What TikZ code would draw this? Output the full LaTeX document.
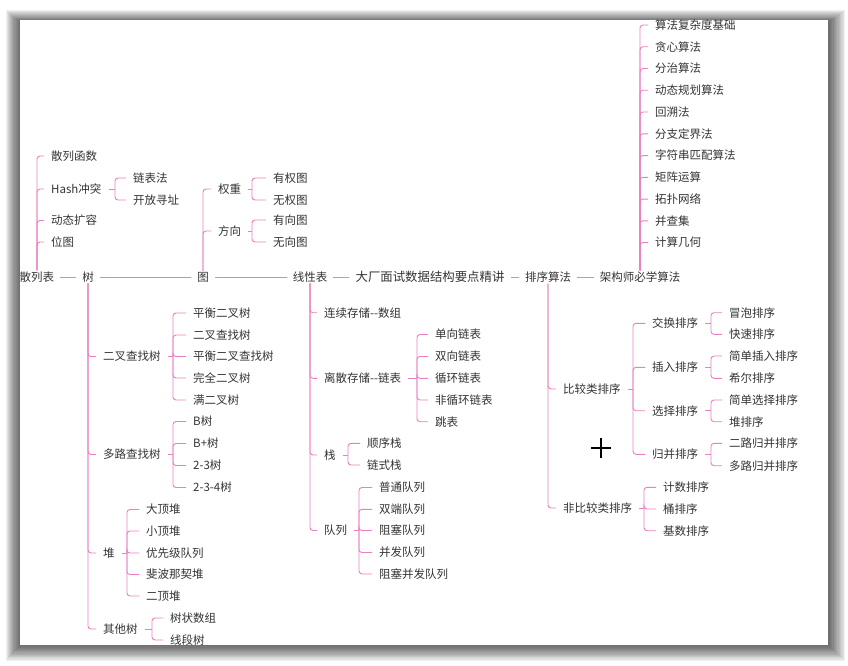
\documentclass[tikz,border=0pt]{standalone}
\usepackage{fontspec}
\setmainfont{Noto Sans CJK SC}
\usetikzlibrary{calc}

\definecolor{linkpink}{RGB}{234,128,192}
\definecolor{txtgray}{RGB}{52,52,52}

\tikzset{
  topic/.style={anchor=west, inner xsep=7pt, inner ysep=1pt, text=txtgray,
    font=\fontsize{11.5}{13}\selectfont},
  maintopic/.style={inner xsep=6pt, inner ysep=1pt, text=txtgray,
    font=\fontsize{11.5}{13}\selectfont},
  link/.style={draw=linkpink, line width=0.9pt, rounded corners=3pt},
}

% 父节点 -> 括号 -> 子节点
\newcommand{\subbranch}[3]{%
  \coordinate (#1-b) at (#2,0 |- #1.east);
  \draw[link] (#1.east) -- (#1-b);
  \foreach \c in {#3} \draw[link] (#1-b) |- (\c.west);
}

\begin{document}
\begin{tikzpicture}[x=1pt, y=-1pt]

    \useasboundingbox (0,0) rectangle (848,666);

    % 截图边框和阴影
    \fill[white] (0,0) rectangle (848,666);
    \foreach \i in {1,...,14}
      \fill[black, opacity=0.06] (21-1.1*\i,23-0.9*\i) rectangle (827+1.3*\i,644+1.2*\i);
    \fill[white] (20,20) rectangle (828,645);

    \begin{scope}
    \clip (20,20) rectangle (828,645);

    % 主干
    \node[maintopic] (sl) at (37,277) {散列表};
    \node[maintopic] (tree) at (88,277) {树};
    \node[maintopic] (graph) at (203,277) {图};
    \node[maintopic] (linear) at (310,277) {线性表};
    \node[maintopic, font=\fontsize{12.4}{14}\selectfont] (root) at (430,277) {大厂面试数据结构要点精讲};
    \node[maintopic] (sort) at (548,277) {排序算法};
    \node[maintopic] (algo) at (640,277) {架构师必学算法};

    \draw[link] (sl) -- (tree);
    \draw[link] (tree) -- (graph);
    \draw[link] (graph) -- (linear);
    \draw[link] (linear) -- (root);
    \draw[link] (root) -- (sort);
    \draw[link] (sort) -- (algo);

    % 散列表
    \node[topic] (hf) at (44,156) {散列函数};
    \node[topic] (hc) at (44,189) {Hash冲突};
    \node[topic] (dr) at (44,220.5) {动态扩容};
    \node[topic] (bm) at (44,242) {位图};
    \foreach \c in {hf,hc,dr,bm} \draw[link] (sl.north) |- (\c.west);

    \node[topic] (lbf) at (126,178) {链表法};
    \node[topic] (kfxz) at (126,200) {开放寻址};
    \subbranch{hc}{115}{lbf,kfxz}

    % 图
    \node[topic] (qz) at (211,189) {权重};
    \node[topic] (fx) at (211,231) {方向};
    \foreach \c in {qz,fx} \draw[link] (graph.north) |- (\c.west);

    \node[topic] (yqt) at (266,178) {有权图};
    \node[topic] (wqt) at (266,200) {无权图};
    \node[topic] (yxt) at (266,220) {有向图};
    \node[topic] (wxt) at (266,242) {无向图};
    \subbranch{qz}{252}{yqt,wqt}
    \subbranch{fx}{252}{yxt,wxt}

    % 树
    \node[topic] (bst) at (96,356.5) {二叉查找树};
    \node[topic] (mst) at (96,454.5) {多路查找树};
    \node[topic] (heap) at (96,553) {堆};
    \node[topic] (other) at (96,629) {其他树};
    \foreach \c in {bst,mst,heap,other} \draw[link] (tree.south) |- (\c.west);

    \node[topic] (bst1) at (186,313) {平衡二叉树};
    \node[topic] (bst2) at (186,335) {二叉查找树};
    \node[topic] (bst3) at (186,356.5) {平衡二叉查找树};
    \node[topic] (bst4) at (186,378) {完全二叉树};
    \node[topic] (bst5) at (186,400) {满二叉树};
    \subbranch{bst}{173}{bst1,bst2,bst3,bst4,bst5}

    \node[topic] (mst1) at (186,421.5) {B树};
    \node[topic] (mst2) at (186,443.5) {B+树};
    \node[topic] (mst3) at (186,465.5) {2-3树};
    \node[topic] (mst4) at (186,487.5) {2-3-4树};
    \subbranch{mst}{173}{mst1,mst2,mst3,mst4}

    \node[topic] (heap1) at (139,509.5) {大顶堆};
    \node[topic] (heap2) at (139,531) {小顶堆};
    \node[topic] (heap3) at (139,553) {优先级队列};
    \node[topic] (heap4) at (139,574.5) {斐波那契堆};
    \node[topic] (heap5) at (139,596) {二顶堆};
    \subbranch{heap}{127}{heap1,heap2,heap3,heap4,heap5}

    \node[topic] (other1) at (163,618) {树状数组};
    \node[topic] (other2) at (163,640) {线段树};
    \subbranch{other}{152}{other1,other2}

    % 线性表
    \node[topic] (arr) at (317,312.7) {连续存储-{}-数组};
    \node[topic] (list) at (317,378.3) {离散存储-{}-链表};
    \node[topic] (stack) at (317,455) {栈};
    \node[topic] (queue) at (317,530.5) {队列};
    \foreach \c in {arr,list,stack,queue} \draw[link] (linear.south) |- (\c.west);

    \node[topic] (list1) at (428,334.5) {单向链表};
    \node[topic] (list2) at (428,356.5) {双向链表};
    \node[topic] (list3) at (428,378.3) {循环链表};
    \node[topic] (list4) at (428,400) {非循环链表};
    \node[topic] (list5) at (428,421.7) {跳表};
    \subbranch{list}{417}{list1,list2,list3,list4,list5}

    \node[topic] (stack1) at (360,443.3) {顺序栈};
    \node[topic] (stack2) at (360,465) {链式栈};
    \subbranch{stack}{348}{stack1,stack2}

    \node[topic] (queue1) at (372,487.5) {普通队列};
    \node[topic] (queue2) at (372,509.3) {双端队列};
    \node[topic] (queue3) at (372,530.5) {阻塞队列};
    \node[topic] (queue4) at (372,552.5) {并发队列};
    \node[topic] (queue5) at (372,574) {阻塞并发队列};
    \subbranch{queue}{359}{queue1,queue2,queue3,queue4,queue5}

    % 排序算法
    \node[topic] (cmp) at (556,389) {比较类排序};
    \node[topic] (ncmp) at (556,508) {非比较类排序};
    \foreach \c in {cmp,ncmp} \draw[link] (sort.south) |- (\c.west);

    \node[topic] (exch) at (645,323.3) {交换排序};
    \node[topic] (ins) at (645,367.3) {插入排序};
    \node[topic] (sel) at (645,410.7) {选择排序};
    \node[topic] (mrg) at (645,454.3) {归并排序};
    \subbranch{cmp}{633}{exch,ins,sel,mrg}

    \node[topic] (exch1) at (722,312.7) {冒泡排序};
    \node[topic] (exch2) at (722,334.3) {快速排序};
    \node[topic] (ins1) at (722,356) {简单插入排序};
    \node[topic] (ins2) at (722,378.3) {希尔排序};
    \node[topic] (sel1) at (722,400) {简单选择排序};
    \node[topic] (sel2) at (722,421.7) {堆排序};
    \node[topic] (mrg1) at (722,443.3) {二路归并排序};
    \node[topic] (mrg2) at (722,465.7) {多路归并排序};
    \subbranch{exch}{711}{exch1,exch2}
    \subbranch{ins}{711}{ins1,ins2}
    \subbranch{sel}{711}{sel1,sel2}
    \subbranch{mrg}{711}{mrg1,mrg2}

    \node[topic] (ncmp1) at (656,487.3) {计数排序};
    \node[topic] (ncmp2) at (656,509) {桶排序};
    \node[topic] (ncmp3) at (656,530.7) {基数排序};
    \subbranch{ncmp}{644}{ncmp1,ncmp2,ncmp3}

    % 架构师必学算法
    \foreach \lbl [count=\i] in {算法复杂度基础,贪心算法,分治算法,动态规划算法,回溯法,
        分支定界法,字符串匹配算法,矩阵运算,拓扑网络,并查集,计算几何} {
      \node[topic] (al\i) at (648,3.3+21.75*\i) {\lbl};
      \draw[link] (algo.north) |- (al\i.west);
    }

    % 鼠标光标
    \draw[black, line width=1.1pt] (591,448) -- (611,448) (601,438) -- (601,458);

    \end{scope}

\end{tikzpicture}
\end{document}
